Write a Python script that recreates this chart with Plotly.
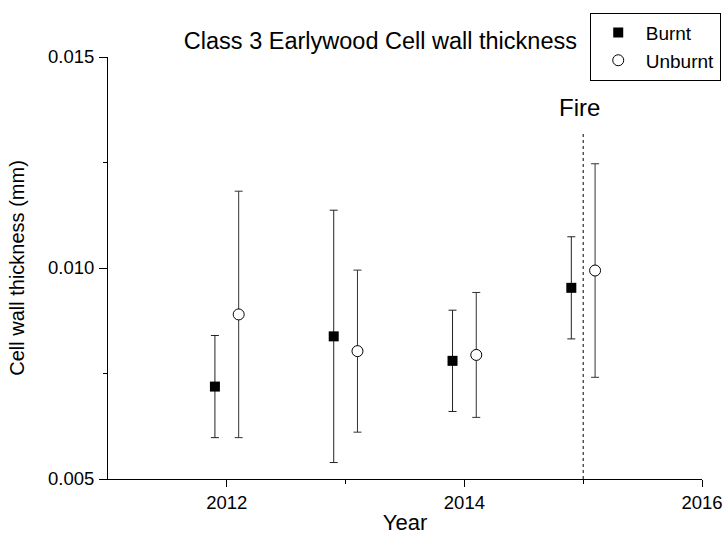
import plotly.graph_objs as go

# data
years = [2012, 2013, 2014, 2015]
burnt_mean = [0.00719, 0.00838, 0.00780, 0.00953]
burnt_err = [0.00121, 0.00299, 0.00120, 0.00121]
unburnt_mean = [0.00890, 0.00803, 0.00794, 0.00994]
unburnt_err = [0.00292, 0.00192, 0.00148, 0.00253]
fire_year = 2015

FONT = "Arial, Liberation Sans, sans-serif"
offset = 0.1

fig = go.Figure()

fig.add_trace(
    go.Scatter(
        x=[y - offset for y in years],
        y=burnt_mean,
        mode="markers",
        name="Burnt",
        marker={"symbol": "square", "size": 10, "color": "black"},
        error_y={"type": "data", "array": burnt_err, "visible": True,
                 "color": "#222", "thickness": 1, "width": 4},
    )
)

fig.add_trace(
    go.Scatter(
        x=[y + offset for y in years],
        y=unburnt_mean,
        mode="markers",
        name="Unburnt",
        marker={"symbol": "circle", "size": 11, "color": "white",
                "line": {"color": "black", "width": 1}},
        error_y={"type": "data", "array": unburnt_err, "visible": True,
                 "color": "#333", "thickness": 1, "width": 4},
    )
)

# fire marker
fig.add_shape(
    type="line", x0=fire_year, x1=fire_year, y0=0.005, y1=0.0132,
    xref="x", yref="y", line={"color": "black", "width": 1, "dash": "dot"},
)
fig.add_annotation(
    x=fire_year - 0.03, y=0.0138, xref="x", yref="y", text="Fire", showarrow=False,
    font={"size": 24, "color": "black", "family": FONT},
)

fig.update_layout(
    width=726,
    height=547,
    margin={"l": 108, "r": 24, "t": 57, "b": 68, "autoexpand": False},
    paper_bgcolor="white",
    plot_bgcolor="white",
    font={"family": FONT, "color": "black", "size": 18},
    title={
        "text": "Class 3 Earlywood Cell wall thickness",
        "x": 0.524, "xanchor": "center",
        "y": 0.925, "yanchor": "middle",
        "font": {"size": 23.5, "family": FONT, "color": "black"},
    },
    legend={
        "x": 0.811, "y": 1.105, "xanchor": "left", "yanchor": "top",
        "bordercolor": "black", "borderwidth": 1, "bgcolor": "white",
        "font": {"size": 19, "family": FONT, "color": "black"},
        "tracegroupgap": 0, "itemwidth": 45,
    },
    showlegend=True,
)

fig.update_xaxes(
    range=[2011, 2016],
    tickvals=[2012, 2014, 2016],
    ticks="outside", ticklen=7, tickwidth=1, tickcolor="black",
    showline=True, linecolor="black", linewidth=1, mirror=False,
    showgrid=False, zeroline=False,
    minor={"tickvals": [2013, 2015], "ticks": "outside", "ticklen": 4,
           "tickcolor": "black", "showgrid": False},
    title={"text": "Year", "font": {"size": 22}, "standoff": 2},
    tickfont={"size": 18.5},
)

fig.update_yaxes(
    range=[0.005, 0.015],
    tickvals=[0.005, 0.010, 0.015],
    tickformat=".3f",
    ticks="outside", ticklen=8, tickwidth=1, tickcolor="black",
    ticklabelstandoff=1,
    showline=True, linecolor="black", linewidth=1, mirror=False,
    showgrid=False, zeroline=False,
    minor={"tickvals": [0.0075, 0.0125], "ticks": "outside", "ticklen": 4,
           "tickcolor": "black", "showgrid": False},
    title={"text": "Cell wall thickness (mm)", "font": {"size": 20}, "standoff": 18},
    tickfont={"size": 18.5},
)

# the page's default body margin would shift the figure by 8 px
fig.write_html(
    "out.html",
    config={"displayModeBar": False},
    post_script="document.body.style.margin = '0';",
)
